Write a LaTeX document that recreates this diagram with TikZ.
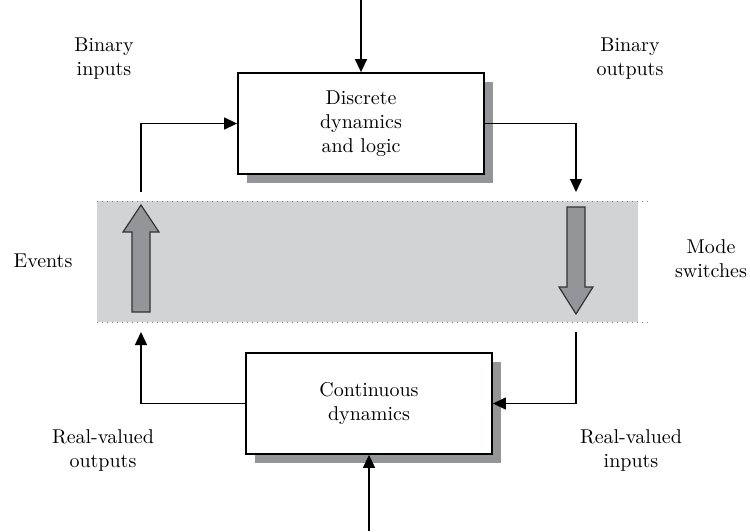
\documentclass[tikz,border=0pt]{standalone}
\usetikzlibrary{arrows.meta, shadows}

\definecolor{bandgray}{HTML}{D2D3D5}
\definecolor{shadegray}{HTML}{939598}
\definecolor{rimgray}{HTML}{333333}

\begin{document}
\begin{tikzpicture}[x=0.5pt, y=-0.5pt]

\tikzset{block/.style = {shape=rectangle, draw, line width=0.9pt, fill=white,
  minimum width=123pt, minimum height=50.5pt, align=center,
  general shadow={fill=shadegray, shadow xshift=4.5pt, shadow yshift=-4.5pt}}}
\tikzset{edge/.style = {line width=0.65pt, -{Triangle[length=6.5pt, width=6pt]}}}
\tikzset{wire/.style = {line width=0.65pt}}
\tikzset{bigarrow/.style = {fill=shadegray, draw=rimgray, line width=0.6pt}}
\tikzset{tag/.style = {align=center}}

\useasboundingbox (0,0) rectangle (750,531);

% interface band
\fill[bandgray] (97,201) rectangle (638,322);
\draw[dotted, gray, line width=0.5pt] (97,201) -- (648,201);
\draw[dotted, gray, line width=0.5pt] (97,322) -- (648,322);

% blocks
\node[block] (disc) at (361,123.5) {Discrete\\dynamics\\and logic};
\node[block] (cont) at (369,403.5) {Continuous\\dynamics};

% labels
\node[tag] (binin) at (104,59) {Binary\\inputs};
\node[tag] (binout) at (630,59) {Binary\\outputs};
\node[tag] (events) at (43,261) {Events};
\node[tag] (mode) at (711,259) {Mode\\switches};
\node[tag] (realout) at (103,450) {Real-valued\\outputs};
\node[tag] (realin) at (631,450) {Real-valued\\inputs};

% loose ends
\coordinate (topin) at (361,0);
\coordinate (botin) at (369,531);
\coordinate (evtop) at (141,192);
\coordinate (evbot) at (141,332);
\coordinate (mstop) at (576,192);
\coordinate (msbot) at (576,332);

% event and mode switch arrows
\draw[bigarrow] (132,312) -- (132,232) -- (123,232) -- (141,205) -- (159,232)
  -- (150,232) -- (150,312) -- cycle;
\draw[bigarrow] (567,207) -- (585,207) -- (585,287) -- (593,287) -- (576,314)
  -- (559,287) -- (567,287) -- cycle;

%edges
\draw[edge] (topin) -- (disc.north);
\draw[edge] (botin) -- (cont.south);
\draw[edge] (evtop) |- (disc.west);
\draw[edge] (disc.east) -| (mstop);
\draw[edge] (msbot) |- (cont.east);
\draw[edge] (cont.west) -| (evbot);

\end{tikzpicture}
\end{document}
